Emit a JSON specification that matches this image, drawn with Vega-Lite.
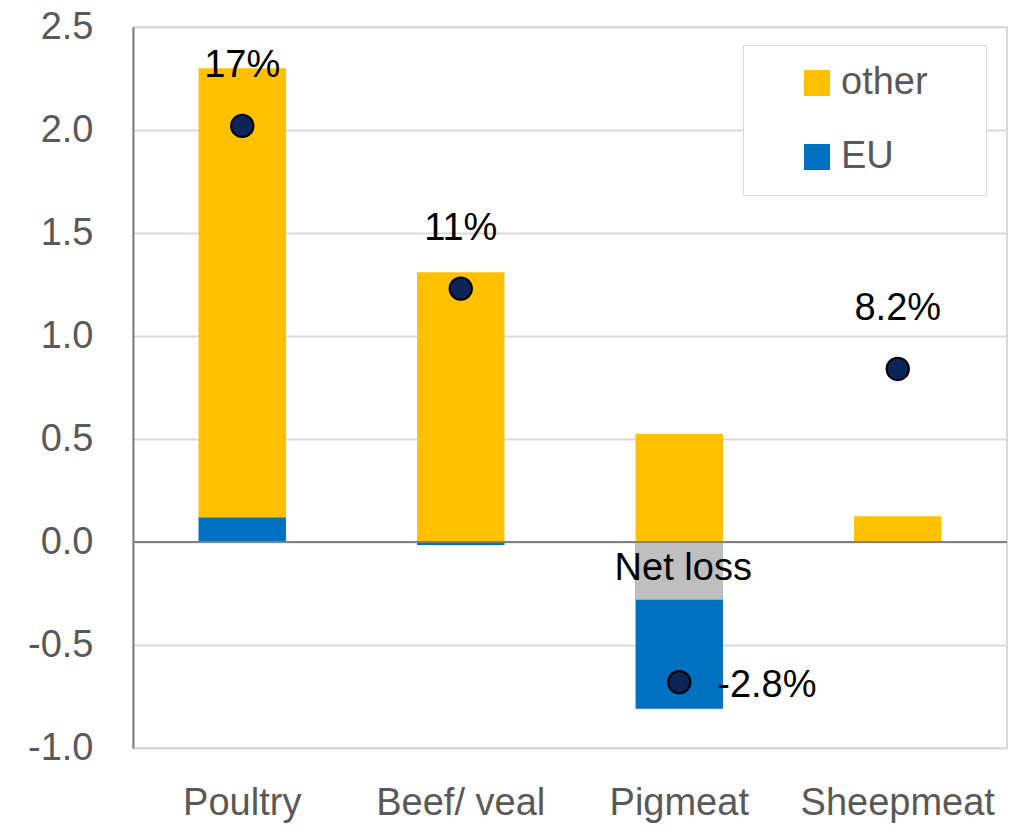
{
  "$schema": "https://vega.github.io/schema/vega-lite/v6.json",
  "width": 874,
  "height": 721,
  "autosize": {"type": "none"},
  "padding": {"left": 133, "top": 27, "right": 14, "bottom": 83},
  "background": "white",
  "config": {
    "font": "Liberation Sans",
    "view": {"stroke": "#D9D9D9", "strokeWidth": 2},
    "axisX": {"domain": false, "ticks": false, "labelFontSize": 38, "labelColor": "#595959", "labelPadding": 36, "labelAngle": 0, "grid": false, "labelLimit": 0},
    "axisY": {"domain": true, "domainColor": "#808080", "domainWidth": 2, "ticks": false, "labelFontSize": 38, "labelColor": "#595959", "labelPadding": 40, "gridColor": "#D9D9D9", "gridWidth": 2, "labelOverlap": false, "labelBound": false, "labelFlush": false}
  },
  "datasets": {
    "bars": [
      {"product": "Poultry", "series": "EU", "start": 0, "end": 0.12},
      {"product": "Poultry", "series": "other", "start": 0.12, "end": 2.3},
      {"product": "Beef/ veal", "series": "EU", "start": 0, "end": -0.015},
      {"product": "Beef/ veal", "series": "other", "start": 0, "end": 1.31},
      {"product": "Pigmeat", "series": "other", "start": 0, "end": 0.525},
      {"product": "Pigmeat", "series": "EU", "start": 0, "end": -0.81},
      {"product": "Sheepmeat", "series": "other", "start": 0, "end": 0.125},
      {"product": "Pigmeat", "series": "Net loss", "start": 0, "end": -0.28}
    ],
    "points": [
      {"product": "Poultry", "value": 2.02, "label": "17%"},
      {"product": "Beef/ veal", "value": 1.23, "label": "11%"},
      {"product": "Pigmeat", "value": -0.68, "label": "-2.8%"},
      {"product": "Sheepmeat", "value": 0.84, "label": "8.2%"}
    ],
    "notes": [
      {"product": "Pigmeat", "value": -0.13, "label": "Net loss"}
    ]
  },
  "layer": [
    {
      "data": {"name": "bars"},
      "mark": {"type": "bar"},
      "encoding": {
        "x": {"field": "product", "type": "nominal", "sort": ["Poultry", "Beef/ veal", "Pigmeat", "Sheepmeat"], "scale": {"paddingInner": 0.6, "paddingOuter": 0.3}, "title": null},
        "y": {"field": "start", "type": "quantitative", "scale": {"domain": [-1, 2.5], "nice": false, "zero": false}, "title": null,
              "axis": {"values": [-1, -0.5, 0, 0.5, 1, 1.5, 2, 2.5], "labelExpr": "replace(format(datum.value, '.1f'), '\u2212', '-')"}},
        "y2": {"field": "end"},
        "color": {"field": "series", "type": "nominal",
          "scale": {"domain": ["other", "EU", "Net loss"], "range": ["#FFC000", "#0070C0", "#BFBFBF"]},
          "legend": {"orient": "none", "legendX": 610, "legendY": 18, "direction": "vertical", "title": null, "values": ["other", "EU"],
            "symbolType": "square", "symbolSize": 676, "symbolStrokeWidth": 0, "labelFontSize": 38, "labelColor": "#595959",
            "padding": 19, "symbolOffset": 36, "labelOffset": 5, "rowPadding": 36, "fillColor": "white", "strokeColor": "#D9D9D9",
            "labelExpr": "datum.label + '\u00a0\u2800'"}}
      }
    },
    {
      "data": {"values": [{}]},
      "mark": {"type": "rule", "color": "#808080", "strokeWidth": 2},
      "encoding": {"y": {"datum": 0}}
    },
    {
      "data": {"name": "points"},
      "mark": {"type": "point", "filled": true, "fill": "#0B2559", "stroke": "#000000", "strokeWidth": 2, "size": 500, "opacity": 1},
      "encoding": {
        "x": {"field": "product", "type": "nominal", "sort": ["Poultry", "Beef/ veal", "Pigmeat", "Sheepmeat"]},
        "y": {"field": "value", "type": "quantitative"}
      }
    },
    {
      "data": {"name": "points"},
      "transform": [{"filter": "datum.product != 'Pigmeat'"}],
      "mark": {"type": "text", "fontSize": 38, "color": "#000000", "align": "center", "baseline": "middle", "dy": -60},
      "encoding": {
        "x": {"field": "product", "type": "nominal", "sort": ["Poultry", "Beef/ veal", "Pigmeat", "Sheepmeat"]},
        "y": {"field": "value", "type": "quantitative"},
        "text": {"field": "label"}
      }
    },
    {
      "data": {"name": "points"},
      "transform": [{"filter": "datum.product == 'Pigmeat'"}],
      "mark": {"type": "text", "fontSize": 38, "color": "#000000", "align": "left", "baseline": "middle", "dx": 38, "dy": 4},
      "encoding": {
        "x": {"field": "product", "type": "nominal", "sort": ["Poultry", "Beef/ veal", "Pigmeat", "Sheepmeat"]},
        "y": {"field": "value", "type": "quantitative"},
        "text": {"field": "label"}
      }
    },
    {
      "data": {"name": "notes"},
      "mark": {"type": "text", "fontSize": 38, "color": "#000000", "align": "center", "baseline": "middle", "dx": 4},
      "encoding": {
        "x": {"field": "product", "type": "nominal", "sort": ["Poultry", "Beef/ veal", "Pigmeat", "Sheepmeat"]},
        "y": {"field": "value", "type": "quantitative"},
        "text": {"field": "label"}
      }
    }
  ]
}
